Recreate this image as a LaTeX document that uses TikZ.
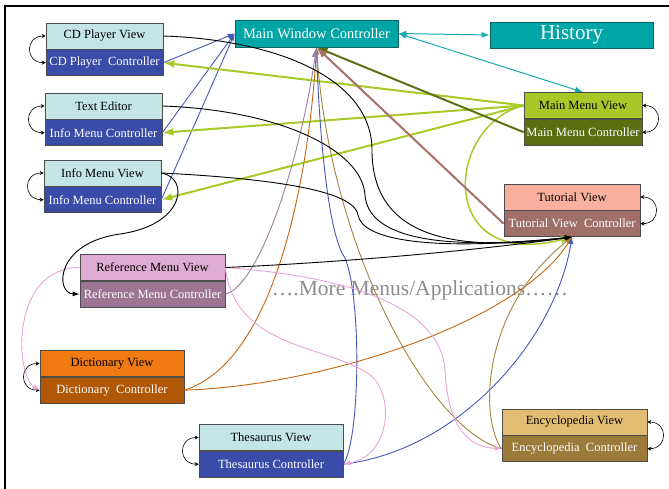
\documentclass[tikz,border=0pt]{standalone}
\usepackage{fontspec}
\setmainfont{Liberation Serif}
\usepackage{tikz}
\usetikzlibrary{arrows.meta,positioning,calc}

\definecolor{viewcyan}{HTML}{C4E4E6}
\definecolor{ctrlblue}{HTML}{3A4CA8}
\definecolor{mainteal}{HTML}{00A6A6}
\definecolor{tealdark}{HTML}{0A6464}
\definecolor{menulime}{HTML}{A8C828}
\definecolor{menuolive}{HTML}{5C6E12}
\definecolor{tutsalmon}{HTML}{FAB09E}
\definecolor{tutbrown}{HTML}{A07068}
\definecolor{refpink}{HTML}{E0ACD6}
\definecolor{refmauve}{HTML}{9C7494}
\definecolor{dictorange}{HTML}{F07A12}
\definecolor{dictbrown}{HTML}{B05808}
\definecolor{enctan}{HTML}{E2BC72}
\definecolor{encbrown}{HTML}{9C7A3A}
\definecolor{lineblue}{HTML}{4858B8}
\definecolor{linelime}{HTML}{A8CA28}
\definecolor{lineolive}{HTML}{5E7014}
\definecolor{lineteal}{HTML}{18AAB2}
\definecolor{linerose}{HTML}{A87068}
\definecolor{lineorange}{HTML}{C8640E}
\definecolor{linemauve}{HTML}{A07C9E}
\definecolor{linepink}{HTML}{EAA4DA}
\definecolor{linetan}{HTML}{A4843E}
\definecolor{moregray}{HTML}{8C8C8C}

\tikzset{
	box/.style={draw=black!70, line width=0.7pt, minimum height=26pt, inner sep=0pt, font=\fontsize{12.5}{14}\selectfont},
	view/.style={box, fill=#1, text=black},
	ctrl/.style={box, fill=#1, text=white},
	flow/.style={->, >={Latex[length=7pt,width=5pt]}, line width=0.9pt},
	wide/.style={->, >={Latex[length=11pt,width=8pt]}, line width=2pt},
	selfarrow/.style={<->, >={Stealth[length=4pt,width=4pt]}, line width=0.6pt},
	history/.style={<->, >={Latex[length=8pt,width=6pt]}, line width=1pt, lineteal}
}

\begin{document}
\begin{tikzpicture}[x=1pt,y=-1pt]
	\useasboundingbox (0,0) rectangle (669,489);
	\draw[line width=2pt] (5,489) -- (5,6) -- (669,6);

	\node [view=viewcyan, minimum width=117pt] (cdview) at (104.5,36) {CD Player View};
	\node [ctrl=ctrlblue, minimum width=117pt, below=0pt of cdview] (cdctrl) {CD Player\ \ Controller};
	\node [view=viewcyan, minimum width=117pt] (teview) at (103.5,106) {Text Editor};
	\node [ctrl=ctrlblue, minimum width=117pt, below=0pt of teview] (tectrl) {Info Menu Controller};
	\node [view=viewcyan, minimum width=117pt] (imview) at (102.5,173) {Info Menu View};
	\node [ctrl=ctrlblue, minimum width=117pt, below=0pt of imview] (imctrl) {Info Menu Controller};

	\node [box, fill=mainteal, draw=tealdark, text=white, minimum width=163pt, minimum height=27pt, font=\fontsize{14.5}{16}\selectfont] (mwc) at (316.5,33.5) {Main Window Controller};
	\node [box, fill=mainteal, draw=tealdark, text=white, minimum width=163pt, font=\fontsize{21}{24}\selectfont] (history) at (571.5,35) {History};

	\node [view=menulime, minimum width=118pt] (mmview) at (583,105.5) {Main Menu View};
	\node [ctrl=menuolive, minimum width=118pt, below=0pt of mmview] (mmctrl) {Main Menu Controller};
	\node [view=tutsalmon, minimum width=136pt] (tutview) at (572,197) {Tutorial View};
	\node [ctrl=tutbrown, minimum width=136pt, below=0pt of tutview] (tutctrl) {Tutorial View\ \ Controller};

	\node [view=refpink, minimum width=145pt] (refview) at (152.5,267.5) {Reference Menu View};
	\node [ctrl=refmauve, minimum width=145pt, below=0pt of refview] (refctrl) {Reference Menu Controller};
	\node [view=dictorange, minimum width=144pt] (dictview) at (112,363.5) {Dictionary View};
	\node [ctrl=dictbrown, minimum width=144pt, below=0pt of dictview] (dictctrl) {Dictionary\ \ Controller};
	\node [view=viewcyan, minimum width=144pt] (thesview) at (271,437.5) {Thesaurus View};
	\node [ctrl=ctrlblue, minimum width=144pt, below=0pt of thesview] (thesctrl) {Thesaurus Controller};
	\node [view=enctan, minimum width=145pt] (encview) at (574.5,422) {Encyclopedia View};
	\node [ctrl=encbrown, minimum width=145pt, below=0pt of encview] (encctrl) {Encyclopedia\ \ Controller};

	\node [text=moregray, font=\fontsize{21.5}{24}\selectfont] (more) at (420,290) {….More Menus/Applications……};

	\draw [selfarrow] (cdview.west) to[out=180,in=180,looseness=2] (cdctrl.west);
	\draw [selfarrow] (teview.west) to[out=180,in=180,looseness=2] (tectrl.west);
	\draw [selfarrow] (imview.west) to[out=180,in=180,looseness=2] (imctrl.west);
	\draw [selfarrow] (dictview.west) to[out=180,in=180,looseness=2] (dictctrl.west);
	\draw [selfarrow] (thesview.west) to[out=180,in=180,looseness=2] (thesctrl.west);
	\draw [selfarrow] (mmview.east) to[out=0,in=0,looseness=2] (mmctrl.east);
	\draw [selfarrow] (tutview.east) to[out=0,in=0,looseness=2] (tutctrl.east);
	\draw [selfarrow] (encview.east) to[out=0,in=0,looseness=2] (encctrl.east);

	\draw [history] (mwc.east) -- (history.west);
	\draw [history] (mwc.east) -- (mmview.north);

	\draw [flow, lineblue] (cdctrl.east) -- (mwc.west);
	\draw [flow, lineblue] (tectrl.east) -- (mwc.west);
	\draw [flow, lineblue] (imctrl.east) -- (mwc.west);

	\draw [wide, linelime] (mmview.west) -- (cdctrl.east);
	\draw [wide, linelime] (mmview.west) -- (tectrl.east);
	\draw [wide, linelime] (mmview.west) -- (imctrl.east);
	\draw [wide, linelime, line width=1.5pt] (mmview.west) .. controls (445,125) and (435,272) .. (tutctrl.south);

	\draw [wide, lineolive] (mmctrl.west) -- (mwc.south);
	\draw [wide, linerose] (tutctrl.west) -- (mwc.south);

	\draw [flow, lineorange] (dictctrl.east) .. controls (280,360) and (310,160) .. (mwc.south);
	\draw [flow, lineorange] (dictctrl.east) .. controls (330,385) and (520,320) .. (tutctrl.south);
	\draw [flow, lineblue] (thesctrl.east) .. controls (360,440) and (362,300) .. (345,258) .. controls (325,230) and (318,100) .. (mwc.south);
	\draw [flow, lineblue] (thesctrl.east) .. controls (460,450) and (555,340) .. (tutctrl.south);
	\draw [flow, linetan] (encctrl.west) .. controls (430,430) and (330,250) .. (mwc.south);
	\draw [flow, linetan] (encctrl.west) .. controls (480,420) and (480,310) .. (tutctrl.south);

	\draw [flow, linepink] (refview.west) .. controls (10,268) and (15,375) .. (dictctrl.west);
	\draw [flow, linepink] (refview.east) .. controls (235,350) and (330,345) .. (370,375) .. controls (394,393) and (392,455) .. (thesctrl.east);
	\draw [flow, linepink] (refview.east) .. controls (330,275) and (440,300) .. (445,370) .. controls (448,430) and (470,447) .. (encctrl.west);
	\draw [flow, linemauve, >={Latex[length=10pt,width=7pt]}] (refctrl.east) .. controls (260,285) and (300,160) .. (mwc.south);

	\draw [flow] (cdview.east) .. controls (280,40) and (372,80) .. (372,150) .. controls (372,230) and (440,255) .. (tutctrl.south);
	\draw [flow] (teview.east) .. controls (280,110) and (362,150) .. (365,195) .. controls (368,235) and (430,252) .. (tutctrl.south);
	\draw [flow] (imview.east) .. controls (300,180) and (355,195) .. (358,215) .. controls (362,240) and (430,252) .. (tutctrl.south);
	\draw [flow] (refview.east) .. controls (350,262) and (480,250) .. (tutctrl.south);
	\draw [flow] (imview.east) .. controls (190,178) and (185,225) .. (120,234) .. controls (55,243) and (55,293) .. (refctrl.west);
\end{tikzpicture}
\end{document}
